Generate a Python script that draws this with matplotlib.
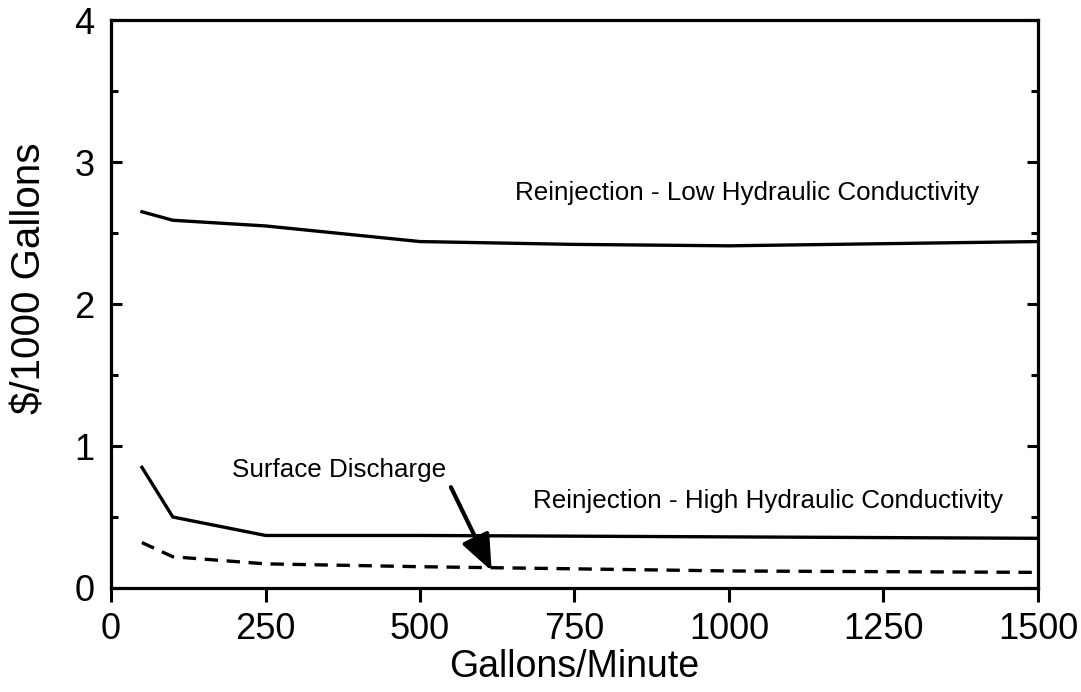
import matplotlib.pyplot as plt

plt.rcParams['font.family'] = ['Liberation Sans', 'DejaVu Sans']

# Reinjection - low hydraulic conductivity
x_low = [50, 100, 250, 500, 750, 1000, 1500]
y_low = [2.65, 2.59, 2.55, 2.44, 2.42, 2.41, 2.44]

# Reinjection - high hydraulic conductivity
x_high = [50, 100, 250, 500, 1000, 1500]
y_high = [0.85, 0.50, 0.37, 0.37, 0.36, 0.35]

# Surface discharge
x_surf = [50, 100, 250, 500, 1000, 1500]
y_surf = [0.32, 0.22, 0.17, 0.15, 0.12, 0.11]

xticks = [0, 250, 500, 750, 1000, 1250, 1500]
yticks = [0, 1, 2, 3, 4]

fig = plt.figure(figsize=(10.81, 6.92), dpi=100)
ax = fig.add_axes([0.1027, 0.1503, 0.8575, 0.8207])

ax.plot(x_low, y_low, color='black', lw=2.4)
ax.plot(x_high, y_high, color='black', lw=2.4)
ax.plot(x_surf, y_surf, color='black', lw=2.4, dashes=(4, 2.6))

ax.set_xlim(0, 1500)
ax.set_ylim(0, 4)
ax.set_xticks(xticks)
ax.set_yticks(yticks)
ax.set_yticks([0.5, 1.5, 2.5, 3.5], minor=True)

for s in ax.spines.values():
    s.set_linewidth(2.3)

ax.tick_params(axis='x', direction='out', length=10, width=2.2, labelsize=26, pad=7)
ax.tick_params(axis='y', which='major', direction='in', length=8, width=2.2,
               labelsize=26, pad=12, left=True, right=True)
ax.tick_params(axis='y', which='minor', direction='in', length=5, width=2.2,
               left=True, right=True)

ax.set_xlabel('Gallons/Minute', fontsize=27, labelpad=2)
fig.text(30 / 1081, 1 - 278 / 692, '$/1000 Gallons', fontsize=29, rotation=90,
         ha='center', va='center')

ax.text(654, 2.78, 'Reinjection - Low Hydraulic Conductivity', fontsize=18.7, va='center')
ax.text(683, 0.61, 'Reinjection - High Hydraulic Conductivity', fontsize=18.7, va='center')
ax.text(196, 0.83, 'Surface Discharge', fontsize=18.7, va='center')
ax.annotate('', xy=(616, 0.12), xytext=(550, 0.71),
            arrowprops=dict(arrowstyle='-|>,head_length=2.2,head_width=0.9',
                            color='black', lw=3, shrinkA=0, shrinkB=0))

fig.savefig('out.png', dpi=100)
